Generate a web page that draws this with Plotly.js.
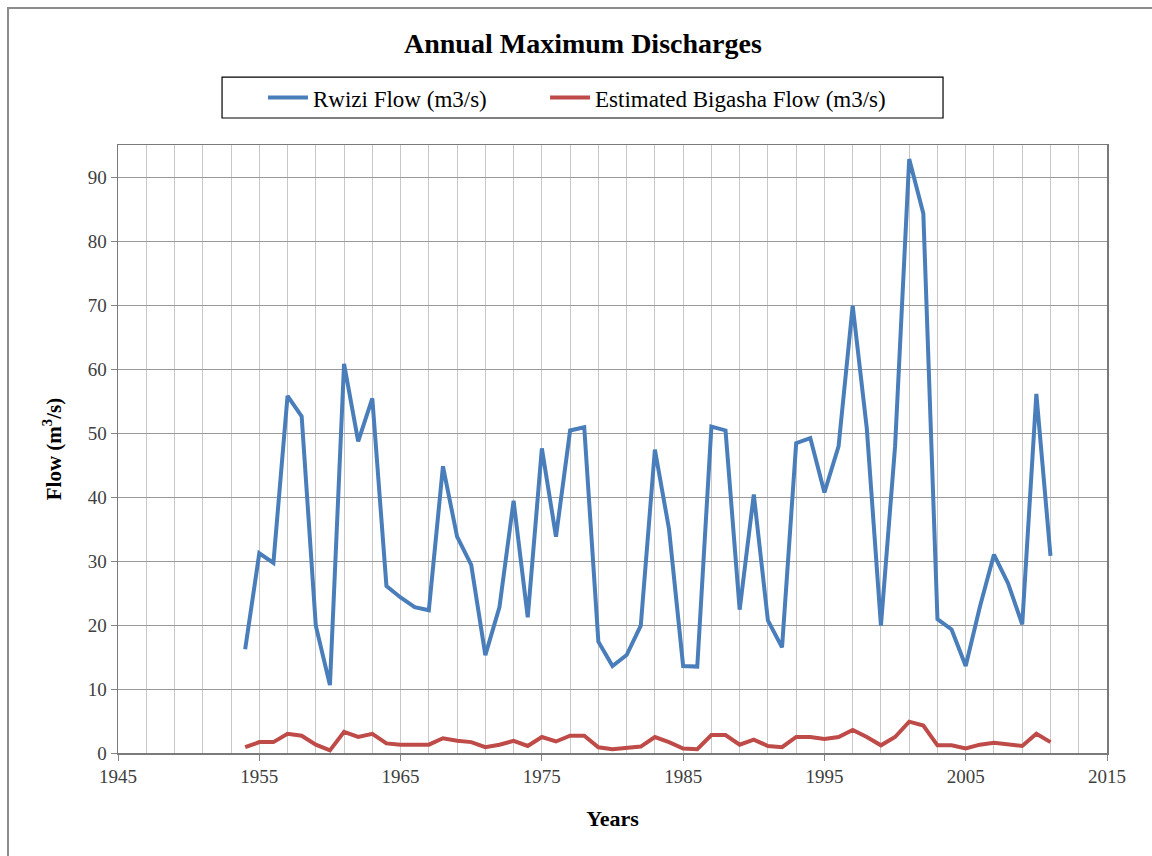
<!DOCTYPE html>
<html>
<head>
<meta charset="utf-8">
<script src="https://cdn.plot.ly/plotly-3.0.1.min.js"></script>
<style>
  html, body { margin: 0; padding: 0; width: 1152px; height: 856px; overflow: hidden; background: #fff; }
  #chart { position: absolute; left: 0; top: 0; width: 1152px; height: 856px; }
  #frame { position: absolute; left: 7px; top: 7px; width: 1170px; height: 880px; border: 2px solid #8c8c8c; pointer-events: none; }
</style>
</head>
<body>
<div id="chart"></div>
<div id="frame"></div>
<script>
// years 1954..2011
var years = [];
for (var yr = 1954; yr <= 2011; yr++) { years.push(yr); }

var rwizi_flow = [
  16.2, 31.2, 29.7, 55.8, 52.6, 19.9, 10.6, 60.8, 48.7, 55.4,
  26.1, 24.3, 22.8, 22.3, 44.8, 33.8, 29.4, 15.3, 22.8, 39.4,
  21.2, 47.6, 33.8, 50.4, 50.9, 17.4, 13.6, 15.3, 19.9, 47.4,
  35.0, 13.6, 13.5, 51.0, 50.4, 22.4, 40.4, 20.7, 16.5, 48.4,
  49.2, 40.7, 47.9, 69.9, 50.7, 19.9, 47.9, 92.8, 84.3, 20.9,
  19.3, 13.6, 22.8, 31.0, 26.5, 20.1, 56.1, 30.8
];

var bigasha_flow = [
  0.9, 1.7, 1.7, 3.0, 2.7, 1.3, 0.4, 3.3, 2.5, 3.0,
  1.5, 1.3, 1.3, 1.3, 2.3, 1.9, 1.7, 0.9, 1.3, 1.9,
  1.1, 2.5, 1.8, 2.7, 2.7, 0.9, 0.6, 0.8, 1.0, 2.5,
  1.7, 0.7, 0.6, 2.8, 2.8, 1.3, 2.1, 1.1, 0.9, 2.5,
  2.5, 2.2, 2.5, 3.6, 2.5, 1.2, 2.5, 4.9, 4.3, 1.2,
  1.2, 0.7, 1.3, 1.6, 1.4, 1.1, 3.0, 1.7
];

var serif = '"Liberation Serif", "DejaVu Serif", serif';

var traces = [
  {
    x: years, y: rwizi_flow, type: 'scatter', mode: 'lines',
    name: 'Rwizi Flow (m3/s)',
    line: { color: '#4a7ebb', width: 4 },
    legend: 'legend'
  },
  {
    x: years, y: bigasha_flow, type: 'scatter', mode: 'lines',
    name: 'Estimated Bigasha Flow (m3/s)',
    line: { color: '#be4b48', width: 4 },
    legend: 'legend2'
  }
];

var legendFont = { family: serif, size: 23, color: '#000' };

var layout = {
  width: 1152,
  height: 856,
  paper_bgcolor: '#fff',
  plot_bgcolor: '#fff',
  margin: { l: 118, r: 45, t: 145, b: 103 },
  font: { family: serif, size: 19, color: '#404040' },
  title: {
    text: '<b>Annual Maximum Discharges</b>',
    font: { family: serif, size: 28, color: '#000' },
    x: 0.506, xanchor: 'center',
    y: 0.95, yanchor: 'middle'
  },
  showlegend: true,
  legend: {
    orientation: 'h',
    x: 0.1466, xanchor: 'left',
    y: 1.078, yanchor: 'middle',
    borderwidth: 0,
    bgcolor: 'rgba(0,0,0,0)',
    font: legendFont,
    itemwidth: 40
  },
  legend2: {
    orientation: 'h',
    x: 0.4318, xanchor: 'left',
    y: 1.078, yanchor: 'middle',
    borderwidth: 0,
    bgcolor: 'rgba(0,0,0,0)',
    font: legendFont,
    itemwidth: 40
  },
  // legend box drawn as a frame around both entries
  shapes: [{
    type: 'rect', xref: 'paper', yref: 'paper',
    x0: 0.1052, x1: 0.8342, y0: 1.0444, y1: 1.1118,
    line: { color: '#000', width: 1.2 }, fillcolor: 'rgba(0,0,0,0)'
  }],
  xaxis: {
    range: [1945, 2015],
    tick0: 1945,
    dtick: 10,
    ticks: 'outside',
    ticklen: 6,
    tickcolor: '#868686',
    showgrid: true,
    gridcolor: '#c8c8c8',
    gridwidth: 1,
    minor: { dtick: 2, tick0: 1945, showgrid: true, gridcolor: '#c8c8c8', gridwidth: 1, ticks: '' },
    showline: true,
    linecolor: '#7a7a7a',
    linewidth: 1.5,
    mirror: true,
    zeroline: false,
    tickfont: { family: serif, size: 19, color: '#404040' },
    title: { text: '<b>Years</b>', font: { family: serif, size: 22, color: '#000' }, standoff: 24 }
  },
  yaxis: {
    range: [0, 95],
    tick0: 0,
    dtick: 10,
    ticks: 'outside',
    ticklen: 6,
    tickcolor: '#868686',
    showgrid: true,
    gridcolor: '#9a9a9a',
    gridwidth: 1,
    showline: true,
    linecolor: '#7a7a7a',
    linewidth: 1.5,
    mirror: true,
    zeroline: false,
    tickfont: { family: serif, size: 19, color: '#404040' },
    title: { text: '<b>Flow (m<sup>3</sup>/s)</b>', font: { family: serif, size: 21, color: '#000' }, standoff: 20 }
  }
};

Plotly.newPlot('chart', traces, layout, { displayModeBar: false, staticPlot: true });
</script>
</body>
</html>
